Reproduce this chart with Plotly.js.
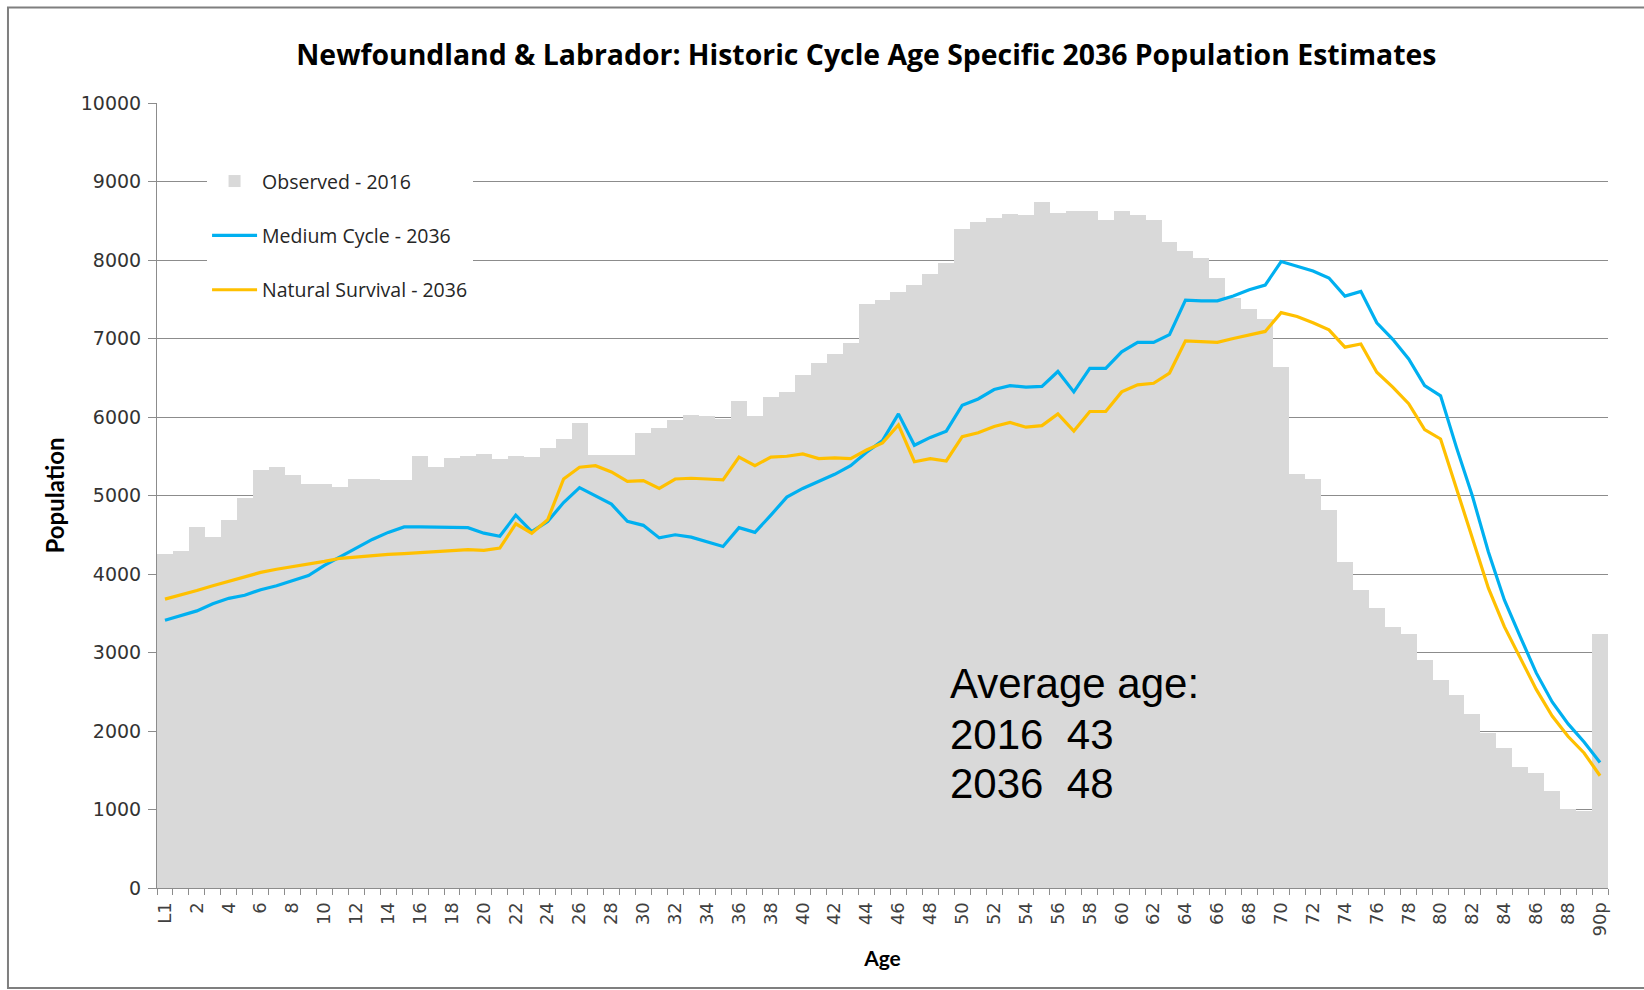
<!DOCTYPE html>
<html>
<head>
<meta charset="utf-8">
<script src="https://cdn.plot.ly/plotly-3.0.1.min.js"></script>
<style>
  html, body { margin: 0; padding: 0; background: #ffffff; }
  #chart { width: 1644px; height: 990px; }
</style>
</head>
<body>
<div id="chart"></div>
<script>
// ---- Data ----
var ages = ['L1','1','2','3','4','5','6','7','8','9',
  '10','11','12','13','14','15','16','17','18','19',
  '20','21','22','23','24','25','26','27','28','29',
  '30','31','32','33','34','35','36','37','38','39',
  '40','41','42','43','44','45','46','47','48','49',
  '50','51','52','53','54','55','56','57','58','59',
  '60','61','62','63','64','65','66','67','68','69',
  '70','71','72','73','74','75','76','77','78','79',
  '80','81','82','83','84','85','86','87','88','89','90p'];

var observed2016 = [4250,4290,4600,4470,4690,4970,5320,5360,5260,5150,
  5150,5110,5210,5210,5200,5200,5500,5360,5480,5500,
  5530,5470,5500,5490,5610,5720,5930,5520,5520,5520,
  5800,5860,5960,6020,6010,5980,6210,6010,6260,6320,
  6540,6690,6800,6940,7440,7490,7590,7680,7820,7960,
  8390,8480,8540,8590,8570,8740,8600,8620,8620,8510,
  8620,8570,8510,8230,8110,8020,7770,7520,7370,7250,
  6640,5280,5210,4810,4150,3790,3570,3330,3240,2900,
  2650,2460,2220,1970,1780,1540,1470,1230,1010,980,3240];

var mediumCycle2036 = [3410,3470,3530,3620,3690,3730,3800,3850,3910,3980,
  4110,4220,4330,4440,4530,4600,4600,4600,4600,4590,
  4520,4480,4750,4540,4670,4910,5100,4990,4890,4670,
  4620,4460,4500,4470,4410,4350,4590,4530,4750,4980,
  5090,5180,5270,5380,5550,5700,6040,5640,5740,5820,
  6150,6230,6350,6400,6380,6390,6580,6320,6620,6620,
  6830,6950,6950,7050,7490,7480,7480,7540,7620,7680,
  7980,7920,7860,7770,7540,7600,7200,6990,6740,6400,
  6270,5610,4990,4280,3670,3200,2740,2370,2090,1860,1600];

var naturalSurvival2036 = [3680,3730,3790,3850,3910,3960,4020,4060,4090,4120,
  4160,4200,4220,4240,4250,4260,4270,4280,4300,4310,
  4300,4330,4640,4520,4690,5210,5360,5380,5300,5180,
  5190,5090,5210,5220,5210,5200,5490,5380,5490,5500,
  5530,5470,5480,5470,5580,5670,5900,5430,5470,5440,
  5750,5800,5880,5930,5870,5890,6040,5820,6070,6070,
  6320,6410,6430,6560,6970,6960,6950,7000,7050,7090,
  7330,7280,7200,7110,6890,6930,6570,6380,6170,5840,
  5720,5090,4470,3820,3330,2930,2530,2190,1930,1720,1430];

var seriesNames = ['Observed - 2016', 'Medium Cycle - 2036', 'Natural Survival - 2036'];
var avgAgeLines = ['Average age:', '2016  43', '2036  48'];
var yTicks = [0,1000,2000,3000,4000,5000,6000,7000,8000,9000,10000];

// tick labels on every other age
var xTickText = ages.map(function(a, i){ return i % 2 === 0 ? a : ''; });
var yTickText = yTicks.map(function(v){ return String(v); });

var traces = [
  {
    type: 'bar', x: ages, y: observed2016, name: seriesNames[0],
    legendgroup: 'g1',
    marker: { color: '#d9d9d9', line: { width: 0 } }
  },
  {
    type: 'scatter', mode: 'lines', x: ages, y: mediumCycle2036, name: seriesNames[1],
    legendgroup: 'g2',
    line: { color: '#00b0f0', width: 3.2 }
  },
  {
    type: 'scatter', mode: 'lines', x: ages, y: naturalSurvival2036, name: seriesNames[2],
    legendgroup: 'g3',
    line: { color: '#ffc000', width: 3.2 }
  }
];

var annFont = { family: '"Liberation Sans", Arial, sans-serif', size: 42, color: '#000000' };
var annY = [2600, 1950, 1330];
var annotations = avgAgeLines.map(function(t, i){
  return { text: t, xref: 'x', yref: 'y', x: 49.1, y: annY[i], xanchor: 'left', yanchor: 'middle',
           showarrow: false, font: annFont };
});

var layout = {
  width: 1644, height: 990,
  paper_bgcolor: '#ffffff', plot_bgcolor: '#ffffff',
  margin: { l: 157, r: 36, t: 103, b: 102 },
  title: {
    text: '<b>Newfoundland &amp; Labrador: Historic Cycle Age Specific 2036 Population Estimates</b>',
    font: { family: '"Open Sans", Lato, sans-serif', size: 28.4, color: '#000000' },
    xref: 'container', yref: 'container', x: 0.527, xanchor: 'center', y: 0.944, yanchor: 'middle'
  },
  bargap: 0,
  showlegend: true,
  legend: {
    x: 0.0345, y: 0.925, xanchor: 'left', yanchor: 'top',
    bgcolor: '#ffffff', borderwidth: 0,
    font: { family: '"Open Sans", sans-serif', size: 19.5, color: '#262626' },
    tracegroupgap: 26, traceorder: 'grouped', itemwidth: 45
  },
  xaxis: {
    type: 'category',
    tickmode: 'array', tickvals: ages, ticktext: xTickText,
    tickson: 'boundaries', ticks: 'outside', ticklen: 6, tickcolor: '#8c8c8c',
    tickangle: -90, ticklabelstandoff: 6,
    tickfont: { family: '"DejaVu Sans", Verdana, sans-serif', size: 18, color: '#404040' },
    showline: true, linecolor: '#8c8c8c', linewidth: 1,
    showgrid: false, zeroline: false,
    range: [-0.5, 90.5],
    title: { text: '<b>Age</b>', font: { family: 'Lato, "Liberation Sans", sans-serif', size: 21, color: '#000000' }, standoff: 15 }
  },
  yaxis: {
    range: [0, 10000], tickmode: 'array', tickvals: yTicks, ticktext: yTickText,
    ticks: 'outside', ticklen: 8, tickcolor: '#8c8c8c', ticklabelstandoff: 3,
    tickfont: { family: '"DejaVu Sans", Verdana, sans-serif', size: 19, color: '#333333' },
    showline: true, linecolor: '#8c8c8c', linewidth: 1,
    showgrid: true, gridcolor: '#8c8c8c', gridwidth: 1, zeroline: false,
    title: { text: '<b>Population</b>', font: { family: 'Lato, "Liberation Sans", sans-serif', size: 24, color: '#000000' }, standoff: 9 }
  },
  annotations: annotations,
  shapes: [
    { type: 'rect', xref: 'paper', yref: 'paper', x0: -0.1027, x1: 1.03, y0: -0.1275, y1: 1.1215,
      line: { color: '#7f7f7f', width: 2 }, fillcolor: 'rgba(0,0,0,0)', layer: 'above' }
  ]
};

Plotly.newPlot('chart', traces, layout, { displayModeBar: false, staticPlot: true });
</script>
</body>
</html>
